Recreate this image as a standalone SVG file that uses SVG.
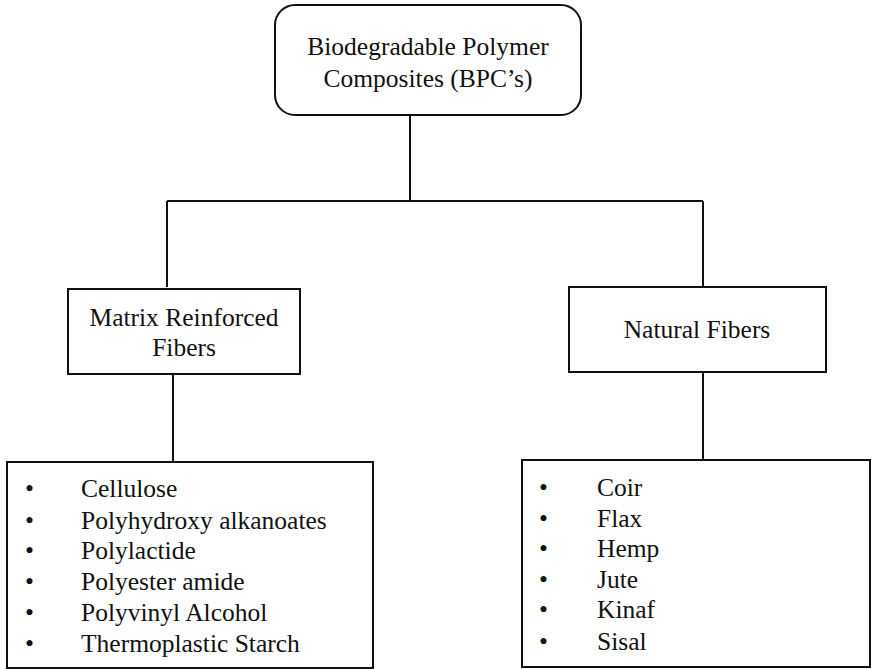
<svg xmlns="http://www.w3.org/2000/svg" width="871" height="669" viewBox="0 0 871 669">
<style>
.box{fill:#fff;stroke:#111;stroke-width:2}
.ln{fill:none;stroke:#111;stroke-width:2}
.t{font-family:'Liberation Serif','Times New Roman',Times,serif;font-size:25.5px;fill:#111}
.c{text-anchor:middle}
</style>
<rect width="871" height="669" fill="#fff"/>
<g id="connectors">
<path class="ln" d="M410 115V201M167 201H703M167 201V287M703 201V287"/>
<path class="ln" d="M173 374V462M703 372V460"/>
</g>
<g id="root" class="t" font-family="Liberation Serif, serif">
<rect class="box" x="275" y="5" width="306" height="110" rx="20"/>
<text class="c" x="428" y="55">Biodegradable Polymer</text>
<text class="c" x="428" y="87">Composites (BPC’s)</text>
</g>
<g id="matrix" class="t" font-family="Liberation Serif, serif">
<rect class="box" x="68" y="289" width="232" height="85"/>
<text class="c" x="184" y="326">Matrix Reinforced</text>
<text class="c" x="184" y="356">Fibers</text>
</g>
<g id="natural" class="t" font-family="Liberation Serif, serif">
<rect class="box" x="569" y="287" width="257" height="85"/>
<text class="c" x="697" y="338">Natural Fibers</text>
</g>
<g id="matrix-list" class="t" font-family="Liberation Serif, serif">
<rect class="box" x="7" y="462" width="366" height="206"/>
<text x="25" y="497">•</text><text x="81" y="497">Cellulose</text>
<text x="25" y="529">•</text><text x="81" y="529">Polyhydroxy alkanoates</text>
<text x="25" y="559">•</text><text x="81" y="559">Polylactide</text>
<text x="25" y="590">•</text><text x="81" y="590">Polyester amide</text>
<text x="25" y="621">•</text><text x="81" y="621">Polyvinyl Alcohol</text>
<text x="25" y="652">•</text><text x="81" y="652">Thermoplastic Starch</text>
</g>
<g id="natural-list" class="t" font-family="Liberation Serif, serif">
<rect class="box" x="522" y="460" width="348" height="207"/>
<text x="539" y="496">•</text><text x="597" y="496">Coir</text>
<text x="539" y="527">•</text><text x="597" y="527">Flax</text>
<text x="539" y="557">•</text><text x="597" y="557">Hemp</text>
<text x="539" y="588">•</text><text x="597" y="588">Jute</text>
<text x="539" y="618">•</text><text x="597" y="618">Kinaf</text>
<text x="539" y="650">•</text><text x="597" y="650">Sisal</text>
</g>
</svg>
